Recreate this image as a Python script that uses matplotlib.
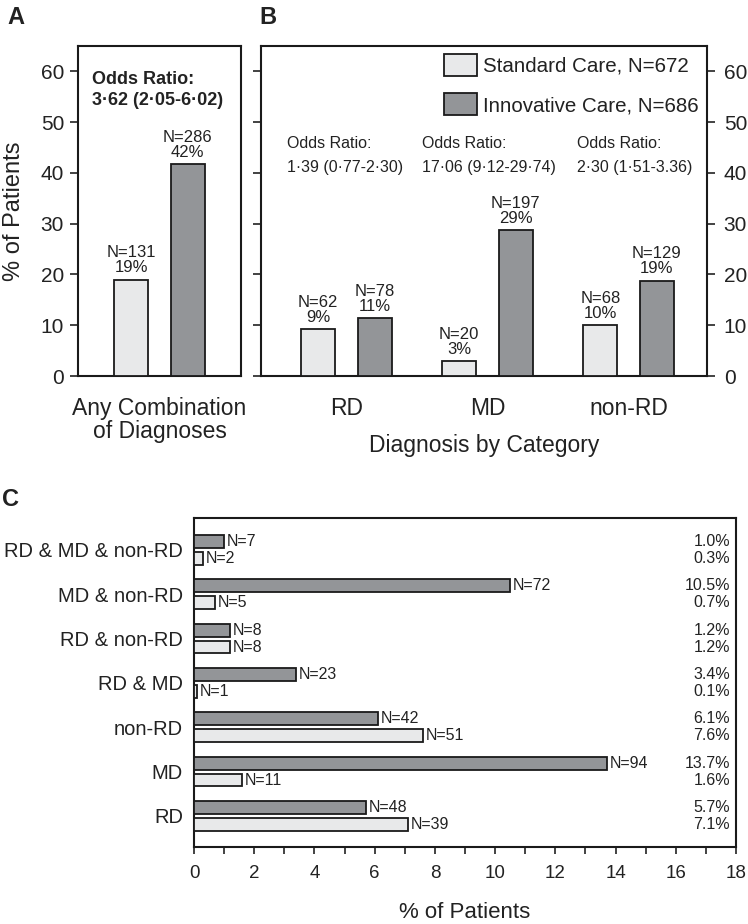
import matplotlib
matplotlib.use("Agg")
import matplotlib.pyplot as plt
import numpy as np
from matplotlib.patches import Patch

plt.rcParams['font.family'] = ['Liberation Sans', 'DejaVu Sans']

# ---------------- data ----------------
groups_legend = ["Standard Care, N=672", "Innovative Care, N=686"]

# Panel A
a_std = 19.0
a_inn = 41.7
a_labels = ["N=131\n19%", "N=286\n42%"]
a_odds = ["Odds Ratio:", "3·62 (2·05-6·02)"]
a_xlabel = "Any Combination\nof Diagnoses"

# Panel B
b_cats = ["RD", "MD", "non-RD"]
b_std = [9.2, 3.0, 10.1]
b_inn = [11.4, 28.7, 18.8]
b_std_labels = ["N=62\n9%", "N=20\n3%", "N=68\n10%"]
b_inn_labels = ["N=78\n11%", "N=197\n29%", "N=129\n19%"]
b_odds = ["1·39 (0·77-2·30)", "17·06 (9·12-29·74)", "2·30 (1·51-3.36)"]

# Panel C (bottom to top)
c_cats = ["RD", "MD", "non-RD", "RD & MD", "RD & non-RD", "MD & non-RD", "RD & MD & non-RD"]
c_inn = [5.7, 13.7, 6.1, 3.4, 1.2, 10.5, 1.0]
c_std = [7.1, 1.6, 7.6, 0.1, 1.2, 0.7, 0.3]
c_inn_n = ["N=48", "N=94", "N=42", "N=23", "N=8", "N=72", "N=7"]
c_std_n = ["N=39", "N=11", "N=51", "N=1", "N=8", "N=5", "N=2"]

LIGHT = "#e8e9ea"
DARK = "#939598"
EDGE = "#1a1a1a"
TXT = "#222222"

W, H = 748, 924
fig = plt.figure(figsize=(W / 100, H / 100), dpi=100)

def fr(x0, y0, x1, y1):
    return [x0 / W, 1 - y1 / H, (x1 - x0) / W, (y1 - y0) / H]

bw = 0.24
off = 0.2

# ---------------- Panel A ----------------
axA = fig.add_axes(fr(78, 46, 241, 376))
axA.bar([-off], [a_std], width=bw, color=LIGHT, edgecolor=EDGE, linewidth=1.3, zorder=3)
axA.bar([off], [a_inn], width=bw, color=DARK, edgecolor=EDGE, linewidth=1.3, zorder=3)
for x, v, lab in zip([-off, off], [a_std, a_inn], a_labels):
    axA.annotate(lab, (x, v), xytext=(0, 3), textcoords="offset points",
                 ha="center", va="bottom", fontsize=12, linespacing=1.0, color=TXT)
axA.set_xlim(-0.578, 0.578)
axA.set_ylim(0, 65)
axA.set_yticks(np.arange(0, 61, 10))
axA.tick_params(axis="y", direction="out", length=6, width=1.2, labelsize=15, pad=4, colors=TXT)
axA.set_xticks([0])
axA.set_xticklabels([a_xlabel], fontsize=16.5, linespacing=1.0, color=TXT)
axA.tick_params(axis="x", length=0, pad=15)
for s in axA.spines.values():
    s.set_linewidth(1.5)
    s.set_color(EDGE)
axA.text(0.086, 58.4, a_odds[0], fontsize=13, fontweight="bold", va="center", ha="left",
         transform=axA.get_yaxis_transform(), color=TXT)
axA.text(0.086, 54.2, a_odds[1], fontsize=13, fontweight="bold", va="center", ha="left",
         transform=axA.get_yaxis_transform(), color=TXT)
fig.text(14 / W, 1 - 211 / H, "% of Patients", rotation=90, fontsize=17,
         ha="center", va="center", color=TXT)

# ---------------- Panel B ----------------
axB = fig.add_axes(fr(261, 46, 707, 376))
xb = np.arange(len(b_cats))
axB.bar(xb - off, b_std, width=bw, color=LIGHT, edgecolor=EDGE, linewidth=1.3, zorder=3)
axB.bar(xb + off, b_inn, width=bw, color=DARK, edgecolor=EDGE, linewidth=1.3, zorder=3)
for x, v, lab in zip(xb - off, b_std, b_std_labels):
    axB.annotate(lab, (x, v), xytext=(0, 3), textcoords="offset points",
                 ha="center", va="bottom", fontsize=12, linespacing=1.0, color=TXT)
for x, v, lab in zip(xb + off, b_inn, b_inn_labels):
    axB.annotate(lab, (x, v), xytext=(0, 3), textcoords="offset points",
                 ha="center", va="bottom", fontsize=12, linespacing=1.0, color=TXT)
axB.set_xlim(-0.606, 2.557)
axB.set_ylim(0, 65)
axB.set_yticks(np.arange(0, 61, 10))
axB.tick_params(axis="y", which="both", direction="out", length=6, width=1.2,
                left=True, right=True, labelleft=False, labelright=True,
                labelsize=15, pad=6, colors=TXT)
axB.set_xticks(xb)
axB.set_xticklabels(b_cats, fontsize=16.5, color=TXT)
axB.tick_params(axis="x", length=0, pad=15)
axB.set_xlabel("Diagnosis by Category", fontsize=16.5, labelpad=10, color=TXT)
for s in axB.spines.values():
    s.set_linewidth(1.5)
    s.set_color(EDGE)
odds_xfrac = [(287 - 261) / 446, (422 - 261) / 446, (577 - 261) / 446]
for xf, t in zip(odds_xfrac, b_odds):
    axB.text(xf, 45.7, "Odds Ratio:", fontsize=11.5, ha="left", va="center",
             transform=axB.get_yaxis_transform(), color=TXT)
    axB.text(xf, 41.1, t, fontsize=11.5, ha="left", va="center",
             transform=axB.get_yaxis_transform(), color=TXT)
handles = [Patch(facecolor=LIGHT, edgecolor=EDGE, linewidth=1.3),
           Patch(facecolor=DARK, edgecolor=EDGE, linewidth=1.3)]
leg = axB.legend(handles, groups_legend, loc="upper left", bbox_to_anchor=(444 / W, 1 - 54 / H),
                 bbox_transform=fig.transFigure, frameon=False, fontsize=14.8,
                 handlelength=1.6, handleheight=1.25, handletextpad=0.3,
                 labelspacing=0.85, borderpad=0, borderaxespad=0)
for t in leg.get_texts():
    t.set_color(TXT)

# ---------------- Panel C ----------------
axC = fig.add_axes(fr(194, 518, 736, 847))
yc = np.arange(len(c_cats))
bh = 0.29
coff = 0.19
axC.barh(yc + coff, c_inn, height=bh, color=DARK, edgecolor=EDGE, linewidth=1.3, zorder=3)
axC.barh(yc - coff, c_std, height=bh, color=LIGHT, edgecolor=EDGE, linewidth=1.3, zorder=3)
for y, v, lab in zip(yc + coff, c_inn, c_inn_n):
    axC.annotate(lab, (v, y), xytext=(2, 0), textcoords="offset points",
                 ha="left", va="center", fontsize=11.5, color=TXT)
for y, v, lab in zip(yc - coff, c_std, c_std_n):
    axC.annotate(lab, (v, y), xytext=(2, 0), textcoords="offset points",
                 ha="left", va="center", fontsize=11.5, color=TXT)
for y, v in zip(yc + coff, c_inn):
    axC.text(0.989, y, f"{v:.1f}%", ha="right", va="center", fontsize=11.5,
             transform=axC.get_yaxis_transform(), color=TXT)
for y, v in zip(yc - coff, c_std):
    axC.text(0.989, y, f"{v:.1f}%", ha="right", va="center", fontsize=11.5,
             transform=axC.get_yaxis_transform(), color=TXT)
axC.set_xlim(0, 18)
axC.set_ylim(-0.7, 6.72)
axC.set_xticks(np.arange(0, 19, 2))
axC.set_xticks(np.arange(1, 18, 2), minor=True)
axC.tick_params(axis="x", which="both", direction="out", length=5, width=1.2,
                labelsize=13.5, pad=8, colors=TXT)
axC.set_yticks(yc)
axC.set_yticklabels(c_cats, fontsize=14.5, color=TXT)
axC.tick_params(axis="y", length=0, pad=8)
axC.set_xlabel("% of Patients", fontsize=16, labelpad=14, color=TXT)
for s in axC.spines.values():
    s.set_linewidth(1.5)
    s.set_color(EDGE)

# panel letters
fig.text(7 / W, 1 - 18 / H, "A", fontsize=17, fontweight="bold", va="center", ha="left", color=TXT)
fig.text(259 / W, 1 - 17 / H, "B", fontsize=17, fontweight="bold", va="center", ha="left", color=TXT)
fig.text(2 / W, 1 - 500 / H, "C", fontsize=17, fontweight="bold", va="center", ha="left", color=TXT)

fig.savefig("out.png", dpi=100)
